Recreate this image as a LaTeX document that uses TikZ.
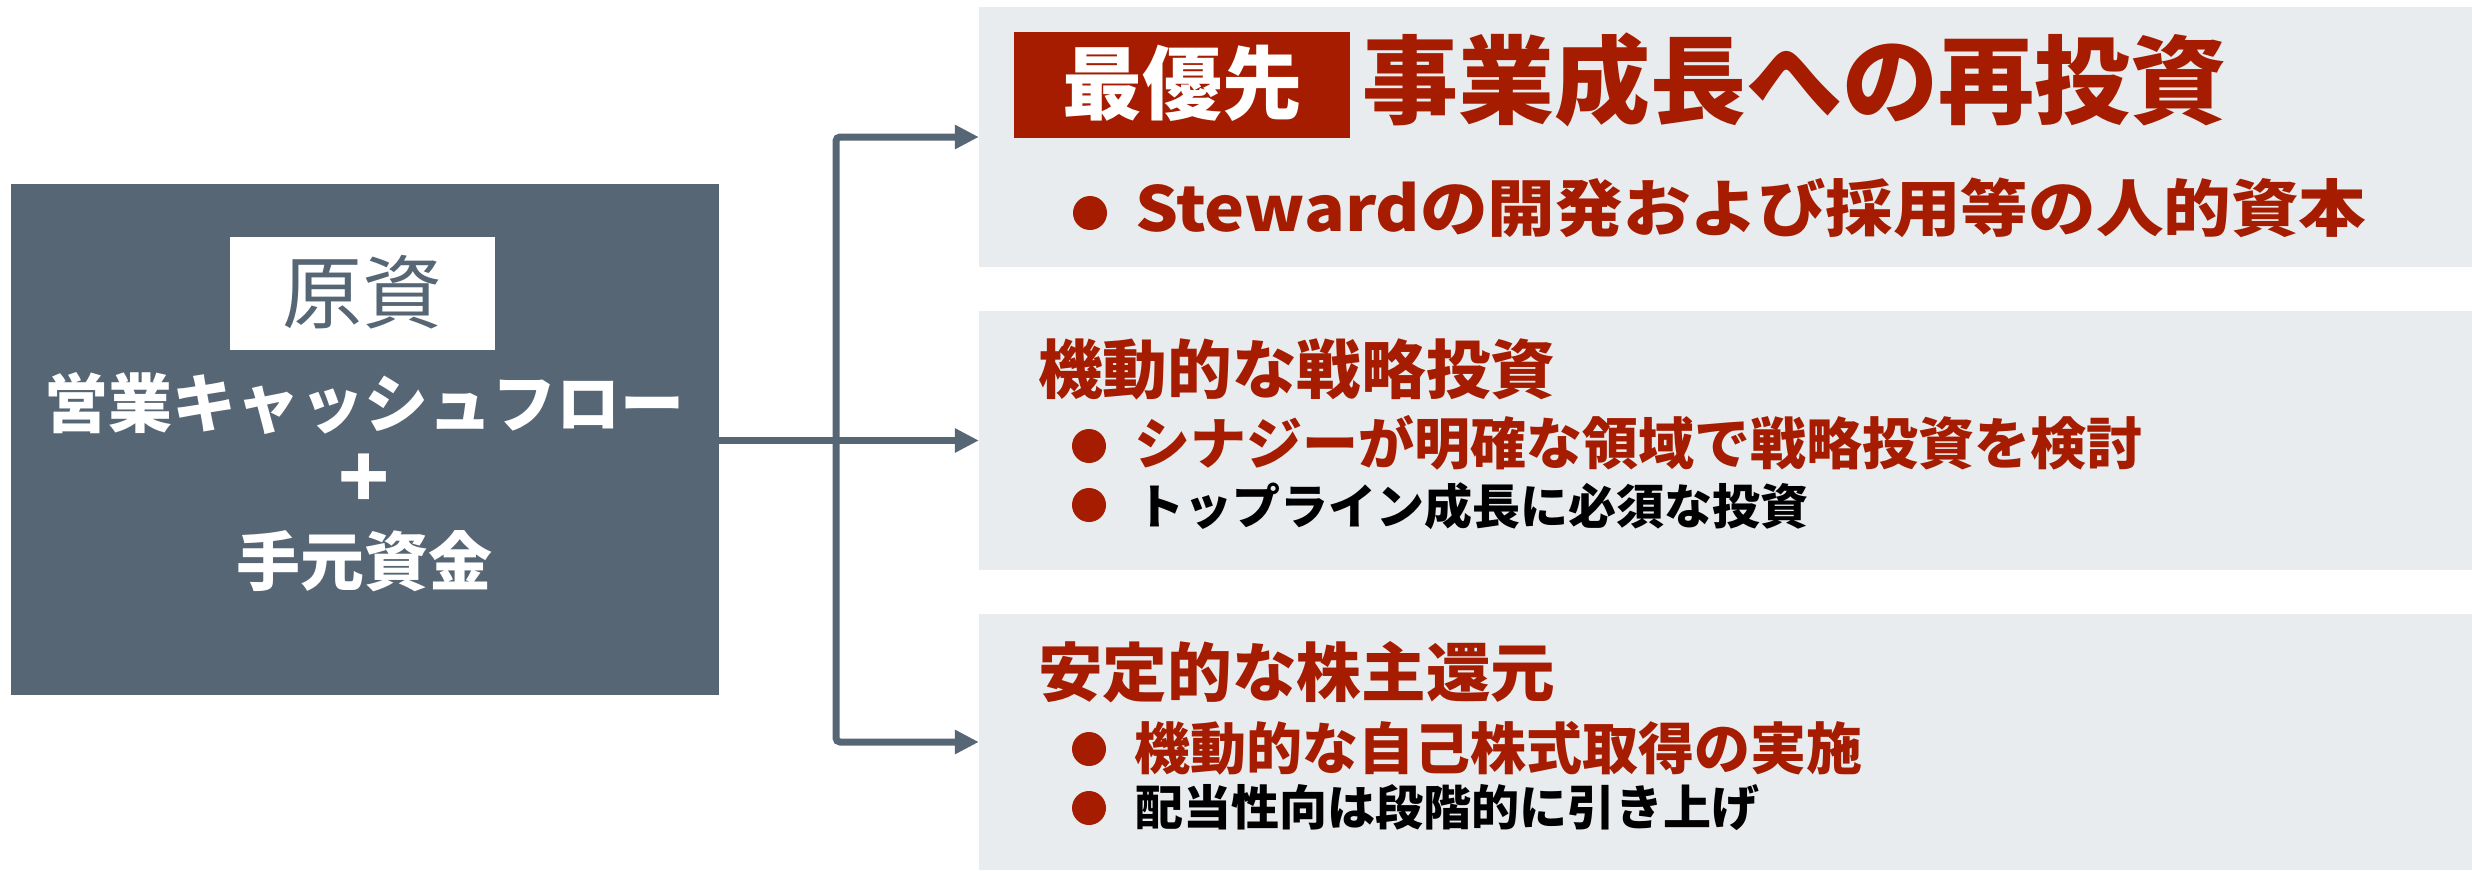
\documentclass[tikz,border=0pt]{standalone}
\usepackage{fontspec}
\usepackage{graphicx}
\newfontfamily\jp{Noto Sans CJK JP}
\usetikzlibrary{arrows.meta}
\definecolor{slate}{RGB}{86,102,117}
\definecolor{panelgray}{RGB}{232,236,239}
\definecolor{accent}{RGB}{165,28,0}
\begin{document}
\begin{tikzpicture}[x=1pt,y=-1pt,
  srcbox/.style={fill=slate, draw=none, minimum width=708pt, minimum height=511pt, inner sep=0pt},
  panelbox/.style={fill=panelgray, draw=none, minimum width=1493pt, inner sep=0pt},
  conn/.style={draw=slate, line width=7pt, rounded corners=4pt, -{Triangle[length=24pt,width=23pt]}},
  dot/.style={circle, fill=accent, draw=none, minimum size=34pt, inner sep=0pt},
  txt/.style={inner sep=0pt, anchor=west},
  jpb/.style={font=\jp\bfseries\fontsize{#1}{#1}\selectfont},
]
\useasboundingbox (0,0) rectangle (2472,870);
\fill[white] (0,0) rectangle (2472,870);

% source box
\node[srcbox] (src) at (365,439.5) {};
\node[fill=white, minimum width=265pt, minimum height=113pt, inner sep=0pt, text=slate,
      font=\jp\fontsize{80}{80}\selectfont] (lbl) at (362.5,293.5) {\raisebox{9pt}{原資}};
\node[jpb=64, text=white, inner sep=0pt] (l1) at (364,404) {営業キャッシュフロー};
\node[jpb=84, text=white, inner sep=0pt] (l2) at (364,481) {+};
\node[jpb=64, text=white, inner sep=0pt] (l3) at (364,561) {手元資金};

% panels
\node[panelbox, minimum height=260pt] (b1) at (1725.5,137) {};
\node[panelbox, minimum height=259pt] (b2) at (1725.5,440.5) {};
\node[panelbox, minimum height=256pt] (b3) at (1725.5,742) {};

% connectors
\coordinate (vx) at (836,440.5);
\draw[conn] (src.east |- b2.west) -- (b2.west);
\draw[conn] (vx) |- (b1.west);
\draw[conn] (vx) |- (b3.west);

% panel 1
\node[fill=accent, minimum width=336pt, minimum height=106pt, inner sep=0pt, text=white,
      jpb=80] (tag) at (1182,85) {\raisebox{11pt}{最優先}};
\node[txt, jpb=96, text=accent] (t1) at (1362,80) {事業成長への再投資};
\node[dot] (d11) at (1090,213) {};
\node[txt, jpb=62, text=accent] (s11) at (1135,208) {\scalebox{1.09}[1]{Stewardの開発および採用等の人的資本}};

% panel 2
\node[txt, jpb=64, text=accent] (t2) at (1038,369) {\scalebox{1.01}[1]{機動的な戦略投資}};
\node[dot] (d21) at (1089,446) {};
\node[txt, jpb=56, text=accent] (s21) at (1134,443) {シナジーが明確な領域で戦略投資を検討};
\node[dot] (d22) at (1089,505) {};
\node[txt, jpb=48, text=black] (s22) at (1136,506) {トップライン成長に必須な投資};

% panel 3
\node[txt, jpb=64, text=accent] (t3) at (1038,672) {\scalebox{1.01}[1]{安定的な株主還元}};
\node[dot] (d31) at (1089,749) {};
\node[txt, jpb=56, text=accent] (s31) at (1134,748) {機動的な自己株式取得の実施};
\node[dot] (d32) at (1089,808) {};
\node[txt, jpb=48, text=black] (s32) at (1135,808) {配当性向は段階的に引き上げ};
\end{tikzpicture}
\end{document}
